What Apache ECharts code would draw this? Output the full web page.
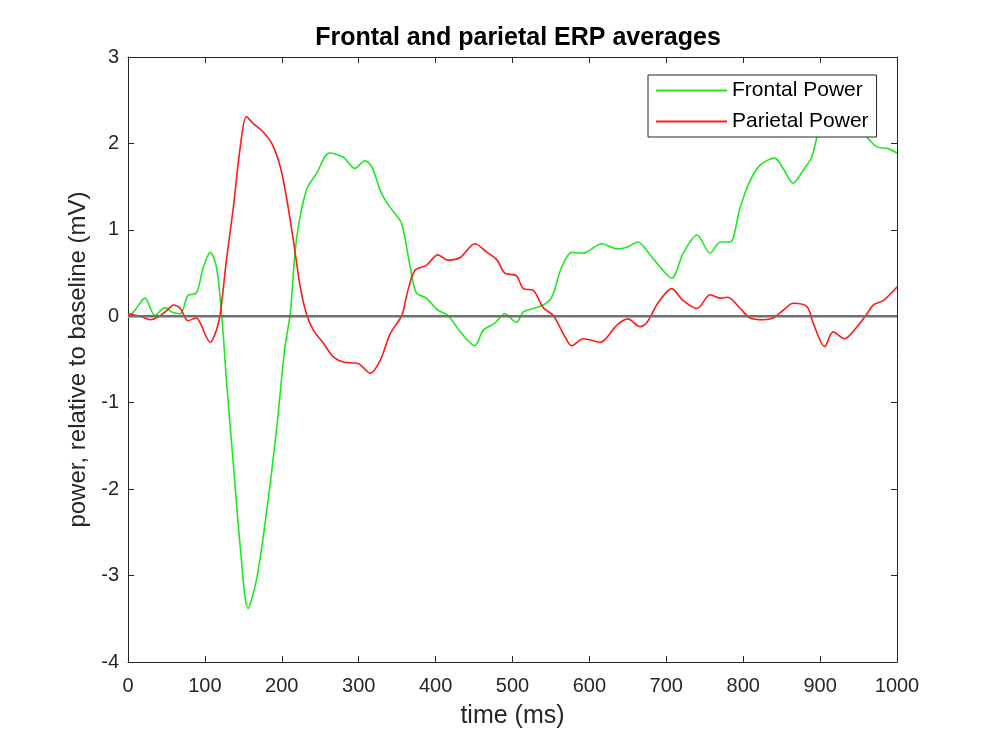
<!DOCTYPE html>
<html><head><meta charset="utf-8">
<script src="https://cdn.jsdelivr.net/npm/echarts@6/dist/echarts.min.js"></script>
<style>html,body{margin:0;padding:0;background:#fff}#c{width:992px;height:743px}</style>
</head><body><div id="c"></div>
<script>
const xTicks = [0,100,200,300,400,500,600,700,800,900,1000];
const yTicks = [-4,-3,-2,-1,0,1,2,3];

const frontalT = [0,10,22,35,48,57,68,78,89,98,107,115,122,128,137,146,156,167,180,193,204,211,219,232,245,262,280,295,308,317,328,336,346,356,367,375,388,403,416,432,451,462,477,490,505,514,527,540,551,564,577,592,616,636,649,663,679,692,707,722,740,757,770,783,796,809,822,841,852,865,878,889,896,905,920,940,955,962,974,988,1000];
const frontalV = [-0.02,0.08,0.21,0.01,0.1,0.05,0.03,0.24,0.27,0.57,0.74,0.57,0,-0.74,-1.71,-2.67,-3.38,-3.05,-2.28,-1.32,-0.36,0.03,0.88,1.46,1.65,1.89,1.84,1.71,1.80,1.73,1.46,1.32,1.2,1.07,0.57,0.27,0.21,0.07,0.01,-0.18,-0.34,-0.16,-0.08,0.03,-0.07,0.05,0.09,0.13,0.22,0.57,0.74,0.73,0.84,0.78,0.80,0.86,0.71,0.57,0.44,0.73,0.94,0.73,0.86,0.86,1.26,1.57,1.75,1.83,1.71,1.54,1.69,1.84,2.07,2.25,2.35,2.3,2.15,2.06,1.96,1.94,1.89];

const parietalT = [0,16,29,39,51,59,68,78,89,94,107,115,120,128,137,146,154,163,176,187,198,206,215,224,232,241,254,267,280,300,315,328,341,356,364,373,388,403,416,432,451,467,480,490,505,514,527,540,553,566,577,592,614,636,650,666,675,689,707,722,740,757,770,780,796,809,826,839,852,865,883,891,906,917,932,948,961,969,982,1000];
const parietalV = [0.03,0,-0.04,-0.01,0.07,0.13,0.09,-0.05,-0.02,-0.08,-0.3,-0.16,0.03,0.65,1.26,1.96,2.31,2.23,2.13,2.0,1.73,1.38,0.88,0.34,0.03,-0.16,-0.31,-0.47,-0.53,-0.55,-0.66,-0.51,-0.2,0.01,0.3,0.53,0.59,0.71,0.65,0.68,0.84,0.74,0.65,0.5,0.47,0.32,0.3,0.1,0.01,-0.2,-0.34,-0.26,-0.3,-0.1,-0.03,-0.12,-0.07,0.15,0.32,0.18,0.09,0.25,0.21,0.22,0.09,-0.02,-0.04,-0.02,0.07,0.15,0.11,-0.08,-0.35,-0.18,-0.26,-0.12,0.03,0.13,0.18,0.34];

const baseT = [0,1000];
const baseV = [0,0];

const zip = (a,b) => a.map((v,i)=>[v,b[i]]);
const font = 'Liberation Sans, Arial, Helvetica, sans-serif';
const axisCol = '#262626';

const chart = echarts.init(document.getElementById('c'), null, {renderer:'canvas'});
chart.setOption({
  animation:false,
  backgroundColor:'#fff',
  title:{text:'Frontal and parietal ERP averages', left:513, top:21, textAlign:'center',
    textStyle:{fontFamily:font, fontSize:25, fontWeight:'bold', color:'#000'}},
  grid:{left:128, right:95, top:57, bottom:81, show:false},
  legend:{
    orient:'vertical', left:648, top:75,
    backgroundColor:'#fff', borderColor:axisCol, borderWidth:1,
    padding:[5,8,5,8], itemGap:10, itemWidth:71, itemHeight:2,
    icon:'rect',
    textStyle:{fontFamily:font, fontSize:21, color:'#000'},
    data:['Frontal Power','Parietal Power']
  },
  xAxis:[{
    type:'value', min:0, max:1000, interval:100,
    name:'time (ms)', nameLocation:'middle', nameGap:42,
    nameTextStyle:{fontFamily:font, fontSize:25, color:axisCol},
    axisLine:{show:true, onZero:false, lineStyle:{color:axisCol, width:1}},
    axisTick:{show:true, inside:true, length:6, lineStyle:{color:axisCol}},
    axisLabel:{fontFamily:font, fontSize:20, color:axisCol, margin:14, formatter:v=>String(v)},
    splitLine:{show:false}
  },{
    type:'value', min:0, max:1000, interval:100, position:'top',
    axisLine:{show:true, onZero:false, lineStyle:{color:axisCol, width:1}},
    axisTick:{show:true, inside:true, length:6, lineStyle:{color:axisCol}},
    axisLabel:{show:false}, splitLine:{show:false}
  }],
  yAxis:[{
    type:'value', min:-4, max:3, interval:1,
    name:'power, relative to baseline (mV)', nameLocation:'middle', nameGap:33,
    nameTextStyle:{fontFamily:font, fontSize:24, color:axisCol},
    axisLine:{show:true, onZero:false, lineStyle:{color:axisCol, width:1}},
    axisTick:{show:true, inside:true, length:6, lineStyle:{color:axisCol}},
    axisLabel:{fontFamily:font, fontSize:20, color:axisCol, margin:9},
    splitLine:{show:false}
  },{
    type:'value', min:-4, max:3, interval:1, position:'right',
    axisLine:{show:true, onZero:false, lineStyle:{color:axisCol, width:1}},
    axisTick:{show:true, inside:true, length:6, lineStyle:{color:axisCol}},
    axisLabel:{show:false}, splitLine:{show:false}
  }],
  series:[
    {name:'Frontal Power', type:'line', data:zip(frontalT,frontalV), symbol:'none', smooth:0.3,
      lineStyle:{color:'#1ee81e', width:1.6}, itemStyle:{color:'#1ee81e'}, z:2},
    {name:'Parietal Power', type:'line', data:zip(parietalT,parietalV), symbol:'none', smooth:0.3,
      lineStyle:{color:'#ff1a1a', width:1.6}, itemStyle:{color:'#ff1a1a'}, z:2},
    {name:'baseline', type:'line', data:zip(baseT,baseV), symbol:'none',
      lineStyle:{color:'#707070', width:2.5}, z:3}
  ]
});
</script></body></html>
